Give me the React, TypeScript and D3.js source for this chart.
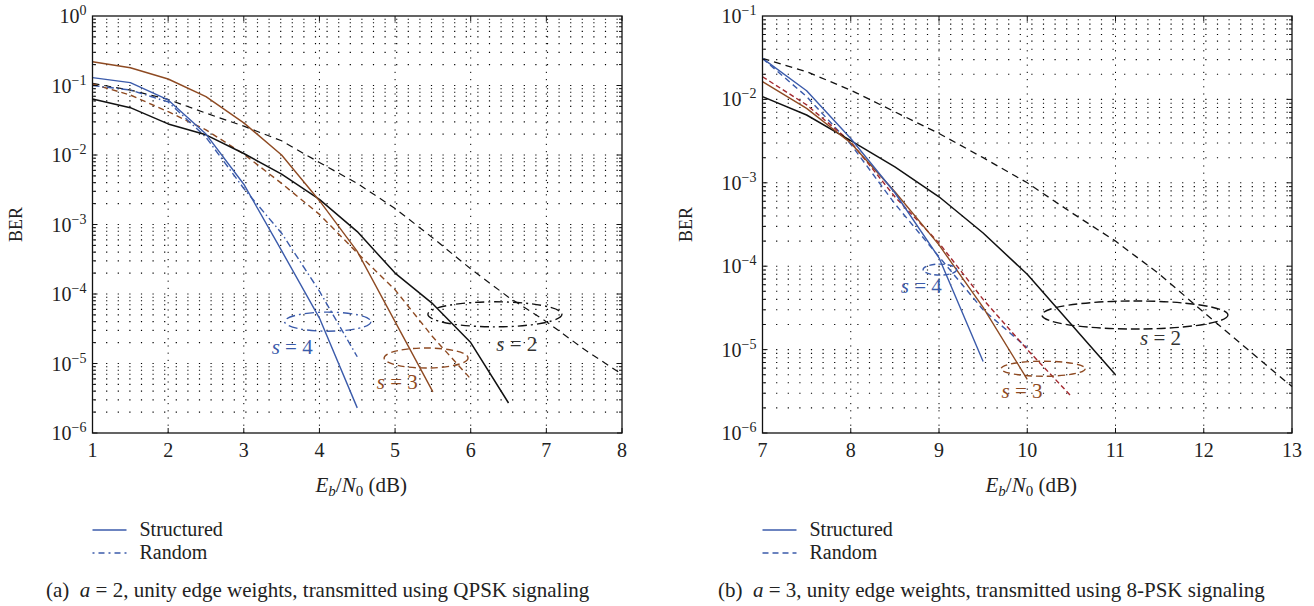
import React from "react";
import * as d3 from "d3";

// ---------- data: panel (a) QPSK ----------
const aX = [1, 1.5, 2, 2.5, 3, 3.5, 4, 4.5, 5, 5.5, 6, 6.5, 7, 7.5, 8];
const aS2Structured = [0.064, 0.048, 0.028, 0.0195, 0.0105, 0.0053, 0.0023, 7.9e-4, 2.0e-4, 7.2e-5, 2.0e-5, 2.7e-6];
const aS2Random = [0.107, 0.086, 0.063, 0.04, 0.026, 0.016, 0.0078, 0.0039, 0.0017, 6.4e-4, 2.3e-4, 9.0e-5, 4.0e-5, 1.6e-5, 7.0e-6];
const aS3Structured = [0.22, 0.18, 0.124, 0.069, 0.029, 0.01, 0.0022, 4.1e-4, 4.0e-5, 3.9e-6];
const aS3Random = [0.105, 0.073, 0.042, 0.023, 0.0103, 0.0039, 0.0014, 3.9e-4, 1.15e-4, 2.4e-5, 6.0e-6];
const aS4Structured = [0.13, 0.11, 0.062, 0.02, 0.0038, 4.2e-4, 4.5e-5, 2.3e-6];
const aS4Random = [0.1, 0.086, 0.058, 0.018, 0.0033, 7.5e-4, 1.1e-4, 1.25e-5];

// ---------- data: panel (b) 8-PSK ----------
const bX = [7, 7.5, 8, 8.5, 9, 9.5, 10, 10.5, 11, 11.5, 12, 12.5, 13];
const bS2Structured = [0.0108, 0.0065, 0.0032, 0.00155, 6.8e-4, 2.5e-4, 8.0e-5, 2.0e-5, 5.0e-6];
const bS2Random = [0.031, 0.0215, 0.0129, 0.0071, 0.0039, 0.002, 1.0e-3, 4.4e-4, 2.0e-4, 8.0e-5, 2.8e-5, 1.0e-5, 3.6e-6];
const bS3Structured = [0.0163, 0.0078, 0.003, 7.8e-4, 1.8e-4, 3.2e-5, 4.4e-6];
const bS3Random = [0.0187, 0.0086, 0.0031, 6.8e-4, 1.9e-4, 4.0e-5, 1.0e-5, 2.75e-6];
const bS4Structured = [0.031, 0.0127, 0.0034, 7.6e-4, 1.26e-4, 7.2e-6];
const bS4Random = [0.031, 0.0108, 0.0029, 5.6e-4, 1.3e-4, 3.0e-5, 1.05e-5];

// ellipse annotations: [centerX, centerBER, radiusX (dB), radiusY (decades)]
const aEllipses = [
  { s: 4, c: [4.11, 4.0e-5, 0.57, 0.137] },
  { s: 3, c: [5.41, 1.2e-5, 0.555, 0.144] },
  { s: 2, c: [6.32, 5.1e-5, 0.886, 0.18] },
];
const aLabels = [
  { s: 4, at: [3.64, 1.67e-5] },
  { s: 3, at: [5.03, 5.2e-6] },
  { s: 2, at: [6.61, 1.85e-5] },
];
const bEllipses = [
  { s: 4, c: [9.01, 9.1e-5, 0.19, 0.066] },
  { s: 3, c: [10.18, 5.9e-6, 0.476, 0.09] },
  { s: 2, c: [11.22, 2.6e-5, 1.054, 0.168] },
];
const bLabels = [
  { s: 4, at: [8.8, 5.6e-5] },
  { s: 3, at: [9.94, 3.1e-6] },
  { s: 2, at: [11.51, 1.35e-5] },
];

const aXTicks = [1, 2, 3, 4, 5, 6, 7, 8];
const bXTicks = [7, 8, 9, 10, 11, 12, 13];
const aYExp = [0, -1, -2, -3, -4, -5, -6];
const bYExp = [-1, -2, -3, -4, -5, -6];

const BLUE = "#3b5bab";
const BROWN = "#8e4a22";
const RED = "#a3282e";
const BLACK = "#111";
const FONT = "'Liberation Serif', 'Times New Roman', serif";

type Series = { x: number[]; y: number[]; color: string; dash?: string; w: number };

function Panel(props: {
  x0: number; x1: number; y0: number; y1: number;
  xDom: [number, number]; yDom: [number, number];
  xTicks: number[]; yExp: number[];
  series: Series[];
  ellipses: { s: number; c: number[] }[];
  labels: { s: number; at: number[] }[];
  ellipseDash: Record<number, string>;
  colors: Record<number, string>;
  legendDash: string;
  captionX: number; captionTag: string; captionA: string; captionRest: string;
}) {
  const { x0, x1, y0, y1 } = props;
  const x = d3.scaleLinear().domain(props.xDom).range([x0, x1]);
  const y = d3.scaleLog().domain(props.yDom).range([y0, y1]);
  const decade = Math.abs(y(1e-3) - y(1e-2));
  const line = d3.line<[number, number]>().x((d) => x(d[0])).y((d) => y(d[1]));

  const lo = Math.round(Math.log10(props.yDom[0]));
  const hi = Math.round(Math.log10(props.yDom[1]));
  const gridY: { v: number; major: boolean }[] = [];
  for (let k = lo; k < hi; k++) {
    for (let m = 1; m <= 9; m++) gridY.push({ v: m * Math.pow(10, k), major: m === 1 });
  }
  const cx = (x0 + x1) / 2;

  return (
    <g>
      {gridY.filter((g) => g.v > props.yDom[0] * 1.0001).map((g, i) => (
        <line key={"h" + i} x1={x0} x2={x1} y1={y(g.v)} y2={y(g.v)} stroke="#000" strokeWidth={1.1}
          strokeDasharray="1.2,10.4" strokeDashoffset={-2} />
      ))}
      {props.xTicks.slice(1, -1).map((t) => (
        <line key={"v" + t} x1={x(t)} x2={x(t)} y1={y0} y2={y1} stroke="#000" strokeWidth={1} strokeDasharray="1.2,6" />
      ))}
      {props.series.map((s, i) => (
        <path key={"s" + i} d={line(s.y.map((v, j) => [s.x[j], v]) as [number, number][]) || ""}
          fill="none" stroke={s.color} strokeWidth={s.w} strokeDasharray={s.dash} strokeLinejoin="round" />
      ))}
      {props.ellipses.map((e, i) => (
        <ellipse key={"e" + i} cx={x(e.c[0])} cy={y(e.c[1])} rx={x(e.c[0] + e.c[2]) - x(e.c[0])} ry={e.c[3] * decade}
          fill="none" stroke={props.colors[e.s]} strokeWidth={1.4} strokeDasharray={props.ellipseDash[e.s]} />
      ))}
      {props.labels.map((l, i) => (
        <text key={"l" + i} x={x(l.at[0])} y={y(l.at[1]) + 6} textAnchor="middle" fontFamily={FONT} fontSize={21}
          fill={l.s === 2 ? "#333" : props.colors[l.s]}>
          <tspan fontStyle="italic">s</tspan> = {l.s}
        </text>
      ))}
      <rect x={x0} y={y1} width={x1 - x0} height={y0 - y1} fill="none" stroke="#111" strokeWidth={1.3} />
      {props.xTicks.map((t) => (
        <g key={"xt" + t}>
          <line x1={x(t)} x2={x(t)} y1={y0} y2={y0 - 5} stroke="#111" strokeWidth={1} />
          <line x1={x(t)} x2={x(t)} y1={y1} y2={y1 + 5} stroke="#111" strokeWidth={1} />
          <text x={x(t)} y={y0 + 24} textAnchor="middle" fontFamily={FONT} fontSize={20} fill="#222">{t}</text>
        </g>
      ))}
      {gridY.map((g, i) => {
        const len = g.major ? 5 : 3;
        return (
          <g key={"yt" + i}>
            <line x1={x0} x2={x0 + len} y1={y(g.v)} y2={y(g.v)} stroke="#111" strokeWidth={1} />
            <line x1={x1} x2={x1 - len} y1={y(g.v)} y2={y(g.v)} stroke="#111" strokeWidth={1} />
          </g>
        );
      })}
      {props.yExp.map((e) => (
        <text key={"yl" + e} x={x0 - 6} y={y(Math.pow(10, e)) + 7} textAnchor="end" fontFamily={FONT} fontSize={20} fill="#222">
          10<tspan dy={-8} fontSize={14}>{e === 0 ? "0" : "\u2212" + Math.abs(e)}</tspan>
        </text>
      ))}
      <text x={cx + 4} y={492} textAnchor="middle" fontFamily={FONT} fontSize={21} fill="#222">
        <tspan fontStyle="italic">E</tspan><tspan fontStyle="italic" fontSize={15} dy={4}>b</tspan>
        <tspan dy={-4}>/</tspan><tspan fontStyle="italic">N</tspan><tspan fontSize={15} dy={4}>0</tspan>
        <tspan dy={-4}> (dB)</tspan>
      </text>
      <text transform={`translate(${x0 - 71},${(y0 + y1) / 2}) rotate(-90)`} textAnchor="middle" fontFamily={FONT}
        fontSize={18} fill="#222">BER</text>
      <line x1={x0} x2={x0 + 34} y1={530} y2={530} stroke={BLUE} strokeWidth={1.4} />
      <text x={x0 + 47} y={536} fontFamily={FONT} fontSize={20} fill="#222">Structured</text>
      <line x1={x0} x2={x0 + 34} y1={553} y2={553} stroke={BLUE} strokeWidth={1.4} strokeDasharray={props.legendDash} />
      <text x={x0 + 47} y={559} fontFamily={FONT} fontSize={20} fill="#222">Random</text>
      <text x={props.captionX} y={597} fontFamily={FONT} fontSize={21} fill="#222">
        {props.captionTag}{"\u00a0\u00a0"}<tspan fontStyle="italic">a</tspan>{props.captionA}{props.captionRest}
      </text>
    </g>
  );
}

export default function App() {
  const aSeries: Series[] = [
    { x: aX, y: aS2Random, color: BLACK, dash: "7,5", w: 1.2 },
    { x: aX, y: aS3Random, color: BROWN, dash: "6,4", w: 1.4 },
    { x: aX, y: aS4Random, color: BLUE, dash: "7,3,1.5,3", w: 1.4 },
    { x: aX, y: aS2Structured, color: BLACK, w: 1.5 },
    { x: aX, y: aS3Structured, color: BROWN, w: 1.4 },
    { x: aX, y: aS4Structured, color: BLUE, w: 1.4 },
  ];
  const bSeries: Series[] = [
    { x: bX, y: bS2Random, color: BLACK, dash: "7,5", w: 1.3 },
    { x: bX, y: bS4Random, color: BLUE, dash: "6,4", w: 1.4 },
    { x: bX, y: bS3Random, color: RED, dash: "5,3", w: 1.4 },
    { x: bX, y: bS2Structured, color: BLACK, w: 1.5 },
    { x: bX, y: bS3Structured, color: BROWN, w: 1.4 },
    { x: bX, y: bS4Structured, color: BLUE, w: 1.4 },
  ];
  const colors = { 2: "#111", 3: BROWN, 4: BLUE };
  return (
    <svg width={1314} height={606} style={{ position: "absolute", left: 0, top: 0, background: "#fff" }}>
      <Panel x0={92.5} x1={622} y0={433} y1={16} xDom={[1, 8]} yDom={[1e-6, 1]} xTicks={aXTicks} yExp={aYExp}
        series={aSeries} ellipses={aEllipses} labels={aLabels}
        ellipseDash={{ 2: "9,4,2,4", 3: "7,4", 4: "9,4,2,4" }} colors={colors} legendDash="2,4,6,4"
        captionX={46} captionTag="(a)" captionA=" = 2," captionRest=" unity edge weights, transmitted using QPSK signaling" />
      <Panel x0={762.5} x1={1292} y0={433} y1={16} xDom={[7, 13]} yDom={[1e-6, 1e-1]} xTicks={bXTicks} yExp={bYExp}
        series={bSeries} ellipses={bEllipses} labels={bLabels}
        ellipseDash={{ 2: "9,4", 3: "7,4", 4: "6,3" }} colors={colors} legendDash="6,4"
        captionX={718} captionTag="(b)" captionA=" = 3," captionRest=" unity edge weights, transmitted using 8-PSK signaling" />
    </svg>
  );
}
